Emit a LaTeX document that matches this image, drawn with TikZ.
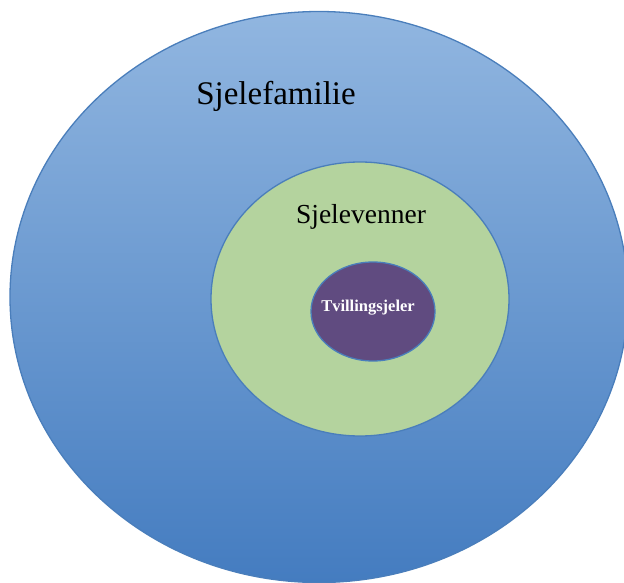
\documentclass[tikz,border=0pt]{standalone}
\usepackage{fontspec}
\setmainfont{Liberation Serif}
\usetikzlibrary{shapes.geometric,positioning}
\definecolor{famtop}{RGB}{145,182,224}
\definecolor{fambot}{RGB}{68,124,192}
\definecolor{rim}{RGB}{74,126,187}
\definecolor{venn}{RGB}{180,211,158}
\definecolor{twin}{RGB}{96,75,128}
\tikzset{
  ring/.style={ellipse, draw=rim, line width=1.3pt, inner sep=0pt}
}

\begin{document}
\begin{tikzpicture}[x=1pt, y=-1pt]
                \useasboundingbox (0,0) rectangle (624,583);
                % Soul family
                \node[ring, top color=famtop, bottom color=fambot,
                      minimum width=618pt, minimum height=571pt] (familie) at (319,297) {};
                \node[font=\fontsize{33}{36}\selectfont] (famtxt) at (276,96) {Sjelefamilie};
                
                % Soul friends
                \node[ring, fill=venn, minimum width=298pt, minimum height=274pt] (venner) at (360,299) {};
                \node[font=\fontsize{27.5}{30}\selectfont] (venntxt) at (361,217) {Sjelevenner};
                
                % Twin souls
                \node[ring, fill=twin, minimum width=124pt, minimum height=99pt] (tvilling) at (373,311.5) {};
                \node[font=\bfseries\fontsize{16.5}{19}\selectfont, text=white] (tvilltxt) at (368,308) {Tvillingsjeler};
            \end{tikzpicture}
\end{document}
